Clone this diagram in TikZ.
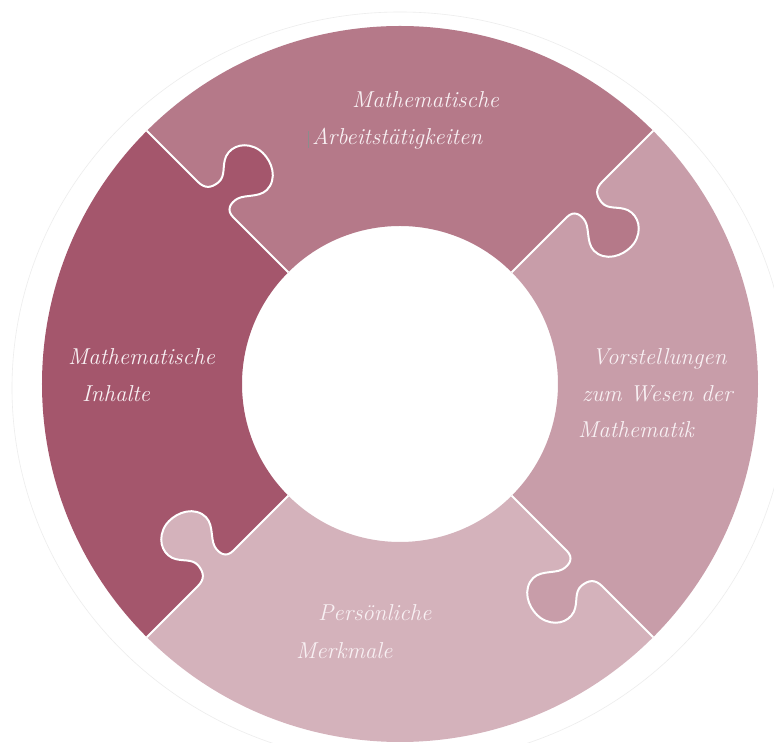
\documentclass[tikz,border=0pt]{standalone}
\usepackage{fontspec}
\usepackage{xcolor}
\usepackage{tikz}
\usetikzlibrary{calc}
\definecolor{toptone}{RGB}{181,121,137}
\definecolor{lefttone}{RGB}{164,86,108}
\definecolor{righttone}{RGB}{200,157,169}
\definecolor{bottomtone}{RGB}{212,178,187}
\definecolor{labeltone}{RGB}{248,240,243}
\tikzset{
	seam/.style={draw=white, line width=2pt},
	lbl/.style={text=labeltone, anchor=base west, inner sep=0pt,
		font=\itshape\fontsize{23}{28}\selectfont\addfontfeatures{LetterSpace=2}}
}

\begin{document}
\begin{tikzpicture}[x=1pt, y=1pt]
				\useasboundingbox (-400,-359) rectangle (374,384);
				\fill[white] (-400,-359) rectangle (374,384);
				\draw[black!7, line width=0.6pt] (0,-4) ellipse[x radius=388, y radius=376];
				\foreach \m/\c in {90/toptone, 180/lefttone, 270/bottomtone, 0/righttone}
					\fill[\c] ({\m-45}:158) arc[start angle=\m-45, end angle=\m+45, radius=158]
						-- ({\m+45}:358) arc[start angle=\m+45, end angle=\m-45, radius=358] -- cycle;
				\foreach \a/\c in {135/lefttone, 45/toptone, -45/righttone, 225/bottomtone} {
					\fill[\c, rotate=\a] (236,3) -- (236,0) .. controls (246,0) and (248,-8) .. (246,-16)
						.. controls (243,-26) and (228,-34) .. (232,-48)
						.. controls (236,-63) and (254,-68) .. (265,-66)
						.. controls (280,-63) and (288,-50) .. (284,-38)
						.. controls (280,-28) and (270,-24) .. (271,-14)
						.. controls (272,-5) and (276,0) .. (286,0) -- (286,3) -- cycle;
					\draw[seam, rotate=\a] (158,0) -- (236,0) .. controls (246,0) and (248,-8) .. (246,-16)
						.. controls (243,-26) and (228,-34) .. (232,-48)
						.. controls (236,-63) and (254,-68) .. (265,-66)
						.. controls (280,-63) and (288,-50) .. (284,-38)
						.. controls (280,-28) and (270,-24) .. (271,-14)
						.. controls (272,-5) and (276,0) .. (286,0) -- (358,0);
				}
				\node[lbl] (topA) at (-48,276) {Mathematische};
				\node[lbl] (topB) at (-88,239) {Arbeitstätigkeiten};
				\draw[black!45, line width=0.7pt] (-92,236) -- (-92,253);
				\node[lbl] (leftA) at (-332,19) {Mathematische};
				\node[lbl] (leftB) at (-318,-18) {Inhalte};
				\node[lbl] (rightA) at (192,19) {Vorstellungen};
				\node[lbl] (rightB) at (182,-18) {zum Wesen der};
				\node[lbl] (rightC) at (178,-54) {Mathematik};
				\node[lbl] (botA) at (-82,-237) {Persönliche};
				\node[lbl] (botB) at (-104,-275) {Merkmale};
			\end{tikzpicture}
\end{document}
